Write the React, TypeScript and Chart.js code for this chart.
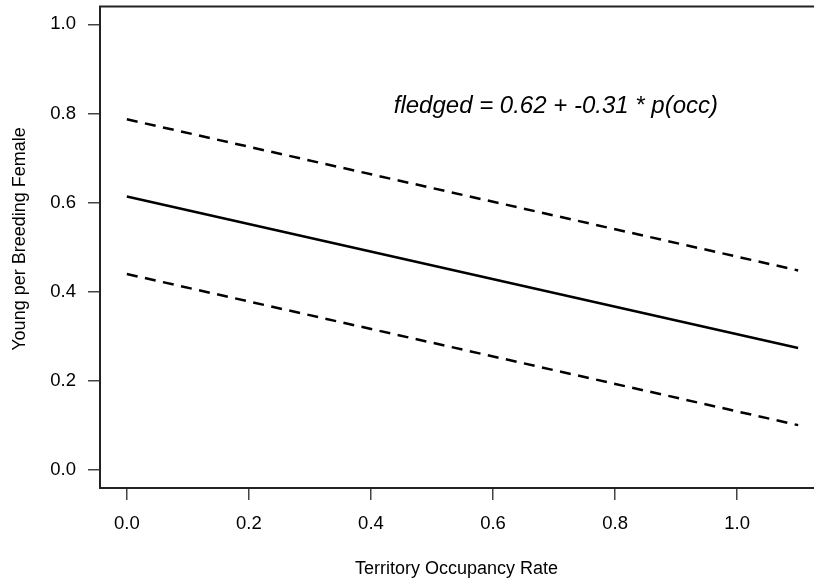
import React, { useEffect, useRef } from "react";
import { Chart, registerables } from "chart.js";

Chart.register(...registerables);

// Data
const xEnds = [0, 1.1];
const fitY = [0.614, 0.274];
const upperY = [0.787, 0.448];
const lowerY = [0.44, 0.101];
const xTicks = [0, 0.2, 0.4, 0.6, 0.8, 1.0];
const yTicks = [0, 0.2, 0.4, 0.6, 0.8, 1.0];
const xLabel = "Territory Occupancy Rate";
const yLabel = "Young per Breeding Female";
const annotation = "fledged = 0.62 + -0.31 * p(occ)";
const annotationPos = { x: 0.703, y: 0.817 };

const FONT = "'Liberation Sans', Arial, Helvetica, sans-serif";
const CW = 840;
const CH = 584;

export default function App() {
  const ref = useRef<HTMLCanvasElement | null>(null);

  useEffect(() => {
    const canvas = ref.current;
    if (!canvas) return;
    const mk = (ys: number[]) => xEnds.map((x, i) => ({ x, y: ys[i] }));

    const boxPlugin = {
      id: "boxAndText",
      afterDraw(chart: any) {
        const { ctx, chartArea, scales } = chart;
        ctx.save();
        ctx.strokeStyle = "#222";
        ctx.lineWidth = 2;
        ctx.strokeRect(chartArea.left, chartArea.top, chartArea.right - chartArea.left, chartArea.bottom - chartArea.top);
        // annotation
        ctx.fillStyle = "#000";
        ctx.font = "italic 24px " + FONT;
        ctx.textAlign = "center";
        ctx.textBaseline = "middle";
        ctx.fillText(annotation, scales.x.getPixelForValue(annotationPos.x), scales.y.getPixelForValue(annotationPos.y));
        // axis titles
        ctx.font = "18px " + FONT;
        ctx.fillText(xLabel, (chartArea.left + chartArea.right) / 2 - 6, 569);
        ctx.translate(20.5, 239);
        ctx.rotate(-Math.PI / 2);
        ctx.fillText(yLabel, 0, 0);
        ctx.restore();
      },
    };

    const chart = new Chart(canvas, {
      type: "line",
      data: {
        datasets: [
          { data: mk(fitY), borderColor: "#000", borderWidth: 2.5, pointRadius: 0, fill: false },
          { data: mk(upperY), borderColor: "#000", borderWidth: 2.5, borderDash: [11, 7.5], pointRadius: 0, fill: false },
          { data: mk(lowerY), borderColor: "#000", borderWidth: 2.5, borderDash: [11, 7.5], pointRadius: 0, fill: false },
        ],
      },
      options: {
        animation: false,
        responsive: false,
        devicePixelRatio: 1,
        layout: { padding: { left: 0, top: 6.5, right: CW - 825, bottom: 0 } },
        plugins: { legend: { display: false }, tooltip: { enabled: false } },
        scales: {
          x: {
            type: "linear",
            min: -0.044,
            max: 1.144,
            afterBuildTicks: (scale: any) => {
              scale.ticks = xTicks.map((v) => ({ value: v }));
            },
            afterFit: (scale: any) => {
              scale.height = CH - 488;
              scale.paddingLeft = 0;
              scale.paddingRight = 0;
            },
            grid: { drawOnChartArea: false, drawTicks: true, tickLength: 12, color: "#444", lineWidth: 1.5 },
            border: { display: true, color: "#222", width: 2 },
            ticks: {
              color: "#000",
              font: { family: FONT, size: 18.5 },
              padding: 13,
              maxRotation: 0,
              autoSkip: false,
              callback: (v: any) => Number(v).toFixed(1),
            },
          },
          y: {
            type: "linear",
            min: -0.04,
            max: 1.04,
            afterBuildTicks: (scale: any) => {
              scale.ticks = yTicks.map((v) => ({ value: v }));
            },
            afterFit: (scale: any) => {
              scale.width = 100;
              scale.paddingTop = 0;
              scale.paddingBottom = 0;
            },
            grid: { drawOnChartArea: false, drawTicks: true, tickLength: 12, color: "#444", lineWidth: 1.5 },
            border: { display: true, color: "#222", width: 2 },
            ticks: {
              color: "#000",
              font: { family: FONT, size: 18.5 },
              padding: 12,
              autoSkip: false,
              callback: (v: any) => Number(v).toFixed(1),
            },
          },
        },
      },
      plugins: [boxPlugin],
    } as any);

    return () => chart.destroy();
  }, []);

  return (
    <div style={{ position: "fixed", left: 0, top: 0, width: 814, height: 584, overflow: "hidden", background: "#fff" }}>
      <canvas ref={ref} width={CW} height={CH} style={{ width: CW, height: CH, display: "block" }} />
    </div>
  );
}
